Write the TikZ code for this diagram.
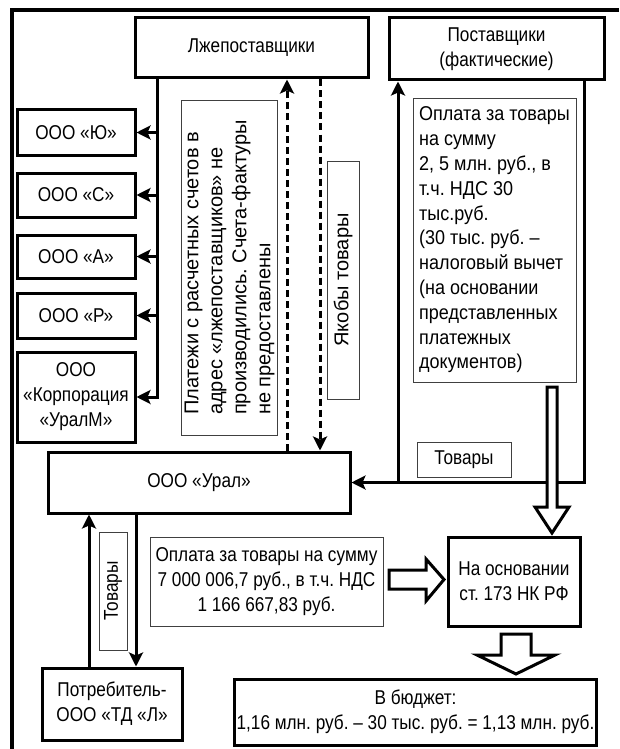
\documentclass[tikz,border=0pt]{standalone}
\usepackage{fontspec}
\setmainfont[FakeStretch=0.86]{Liberation Sans}
\newfontfamily\plainfont{Liberation Sans}
\newfontfamily\boxfont[FakeStretch=0.9]{Liberation Sans}
\usetikzlibrary{arrows.meta}
\begin{document}
\frenchspacing
\begin{tikzpicture}[x=1pt,y=-1pt,
  font=\fontsize{20}{25}\selectfont\frenchspacing,
  bx/.style={draw, line width=3pt, inner sep=2pt, align=center, fill=white},
  tb/.style={draw=black!75, line width=0.8pt, inner sep=3pt, fill=white},
  ln/.style={line width=3pt},
  arr/.style={line width=3pt, -{Stealth[length=14pt,width=14pt,inset=3pt]}},
  darr/.style={arr, dash pattern=on 7pt off 4pt},
  hollow/.style={draw, line width=3pt, fill=white, line join=miter}
]
\useasboundingbox (0,0) rectangle (619,749);
% outer frame
\draw[line width=4pt] (12,749) -- (12,10) -- (619,10);

% main boxes
\node[bx, minimum width=233pt, minimum height=60pt] (lzh) at (251.5,48) {Лжепоставщики};
\node[bx, minimum width=215pt, minimum height=62pt] (post) at (496.5,49) {Поставщики\\(фактические)};
\node[bx, minimum width=118pt, minimum height=45pt] (yu) at (76,132.5) {ООО «Ю»};
\node[bx, minimum width=118pt, minimum height=44pt] (s) at (76,195) {ООО «С»};
\node[bx, minimum width=118pt, minimum height=43pt] (a) at (76,256.5) {ООО «А»};
\node[bx, minimum width=118pt, minimum height=45pt] (r) at (76,315.5) {ООО «Р»};
\node[bx, minimum width=118pt, minimum height=90pt] (korp) at (76,397) {ООО\\«Корпорация\\«УралМ»};
\node[bx, minimum width=302pt, minimum height=61pt] (ural) at (199,482.5) {ООО «Урал»};
\node[bx, minimum width=140pt, minimum height=72pt] (potreb) at (112,704) {Потребитель-\\ООО «ТД «Л»};
\node[bx, minimum width=132pt, minimum height=89pt] (osn) at (514,581.5) {На основании\\ст. 173 НК РФ};
\node[bx, minimum width=359pt, minimum height=66pt] (budget) at (415.5,712) {В бюджет:\\1,16 млн. руб. – 30 тыс. руб. = 1,13 млн. руб.};

% thin text boxes
\node[tb, rotate=90, minimum width=335pt, minimum height=89pt, align=left,
      font=\plainfont\fontsize{20}{24}\selectfont] (plat) at (229.5,267.5)
  {Платежи с расчетных счетов в\\адрес «лжепоставщиков» не\\производились. Счета-фактуры\\не предоставлены};
\node[tb, rotate=90, minimum width=238pt, minimum height=32pt, inner sep=1pt,
      font=\plainfont\fontsize{20}{24}\selectfont] (yak) at (343,280) {Якобы товары};
\node[tb, minimum width=163pt, minimum height=284pt, align=left, inner sep=2pt,
      font=\boxfont\fontsize{20}{24.8}\selectfont] (opl1) at (494.5,240)
  {Оплата за товары\\на сумму\\2, 5 млн. руб., в\\т.ч. НДС 30\\тыс.руб.\\(30 тыс. руб. –\\налоговый вычет\\(на основании\\представленных\\платежных\\документов)};
\node[tb, minimum width=94pt, minimum height=35pt, inner sep=1pt] (tov1) at (464,459.5) {Товары};
\node[tb, rotate=90, minimum width=118pt, minimum height=28pt, inner sep=1pt] (tov2) at (113,591) {Товары};
\node[tb, minimum width=233pt, minimum height=89pt, align=center] (opl2) at (266.5,581.5)
  {Оплата за товары на сумму\\7 000 006,7 руб., в т.ч. НДС\\1 166 667,83 руб.};

% connectors: false suppliers to firms
\coordinate (tr) at (157,0);
\draw[arr] (lzh.south -| tr) |- (korp.east);
\foreach \b in {yu,s,a,r}{\draw[arr] (\b.east -| tr) -- (\b.east);}

% dashed arrows
\coordinate (d1) at (287,0);
\coordinate (d2) at (320,0);
\draw[darr] (ural.north -| d1) -- (lzh.south -| d1);
\draw[darr] (lzh.south -| d2) -- (ural.north -| d2);

% actual suppliers
\coordinate (c584) at (584,0);
\coordinate (c398) at (398,0);
\draw[arr] (post.south -| c584) |- (ural.east);
\draw[arr] (ural.east -| c398) -- (post.south -| c398);

% consumer
\coordinate (p1) at (89,0);
\coordinate (p2) at (136,0);
\draw[arr] (potreb.north -| p1) -- (ural.south -| p1);
\draw[arr] (ural.south -| p2) -- (potreb.north -| p2);

% hollow arrows
\draw[hollow] (547,387) -- (557,387) -- (557,507) -- (569,507) -- (552,533) -- (535,507) -- (547,507) -- cycle;
\draw[hollow] (389,570) -- (426,570) -- (426,559) -- (444,579.5) -- (426,601) -- (426,589) -- (389,589) -- cycle;
\draw[hollow] (501,634) -- (531,634) -- (531,655) -- (555,655) -- (516,674) -- (477,655) -- (501,655) -- cycle;
\end{tikzpicture}
\end{document}
